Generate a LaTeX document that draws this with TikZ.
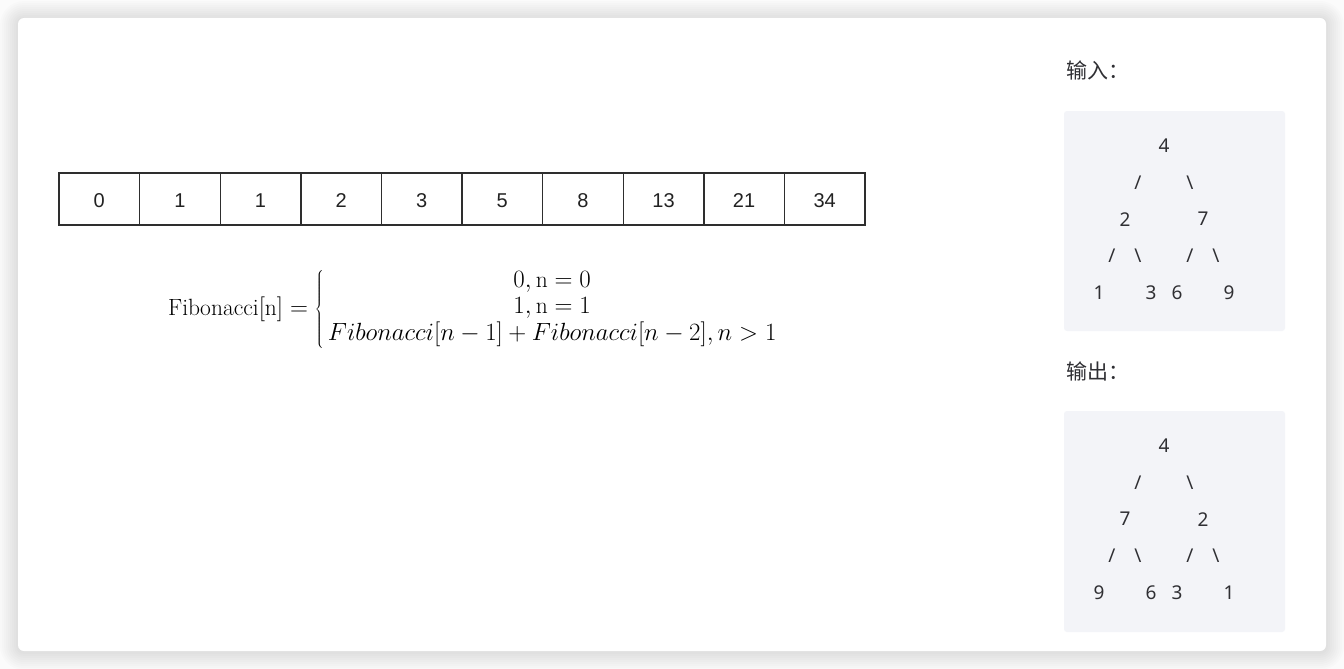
\documentclass[tikz,border=0pt]{standalone}
\usepackage{fontspec}
\usepackage{tikz}
\usetikzlibrary{positioning}
\newfontfamily\cellfont{Liberation Sans}
\newfontfamily\treefont{Noto Sans}
\newfontfamily\cjk{Noto Sans CJK SC}
\definecolor{pageBack}{HTML}{FBFBFB}
\definecolor{cellLine}{HTML}{2E2E2E}
\definecolor{cellText}{HTML}{222222}
\definecolor{treeFill}{HTML}{F3F4F8}
\definecolor{treeText}{HTML}{2F2F33}
\newcommand{\fwd}{/}
\newcommand{\bck}{\textbackslash}

\begin{document}
\begin{tikzpicture}[
  x=1pt, y=-1pt,
  cell/.style={
    draw=cellLine,
    line width=1.4pt,
    outer sep=0pt,
    inner sep=0pt,
    minimum width=80.6pt,
    minimum height=52pt,
    text height=17.3pt,
    text depth=0pt,
    text=cellText,
    font=\cellfont\fontsize{20}{24}\selectfont
  },
  tree box/.style={
    fill=treeFill,
    rounded corners=3pt
  },
  tree char/.style={
    inner sep=0pt,
    text=treeText,
    font=\treefont\fontsize{19}{23}\selectfont
  },
  heading/.style={
    anchor=west,
    inner sep=0pt,
    text=treeText,
    font=\cjk\fontsize{21}{25}\selectfont
  },
  formula/.style={
    anchor=west,
    inner sep=0pt,
    font=\fontsize{23.5}{25}\selectfont
  }
]

% Page and card with a soft shadow
\useasboundingbox (0,0) rectangle (1344,669);
\fill[pageBack] (0,0) rectangle (1344,669);
\foreach \s in {1,...,9}
  \fill[black, opacity=0.011, rounded corners={6pt+2*\s pt}]
    (18-2*\s,19-2*\s) rectangle (1326+2*\s,652+2*\s);
\fill[white, rounded corners=6pt] (18,18) rectangle (1326,651);

% Fibonacci table
\foreach \v [count=\i from 0] in {0,1,1,2,3,5,8,13,21,34}
  \node[cell] (cell\i) at ({99.3+80.6*\i},199) {\v};

% Recurrence
\node[formula] (recurrence) at (168,309)
  {\renewcommand{\arraystretch}{1.04}%
   $\mathrm{Fibonacci[n]}=\left\{\,\begin{array}{@{}c@{}}
     0,\mathrm{n}=0\\
     1,\mathrm{n}=1\\
     Fibonacci[n-1]+Fibonacci[n-2],n>1
   \end{array}\right.$};

% Input tree
\node[heading] (inputLabel) at (1066,70) {输入：};
\fill[tree box] (1064,111) rectangle (1285,331);
\foreach \c/\r/\t [count=\k] in {5/0/4, 3/1/\fwd, 7/1/\bck, 2/2/2, 8/2/7,
    1/3/\fwd, 3/3/\bck, 7/3/\fwd, 9/3/\bck, 0/4/1, 4/4/3, 6/4/6, 10/4/9}
  \node[tree char] (in\k) at ({1099+13*\c},{146+36.6*\r}) {\t};

% Output tree
\node[heading] (outputLabel) at (1066,371) {输出：};
\fill[tree box] (1064,411) rectangle (1285,632);
\foreach \c/\r/\t [count=\k] in {5/0/4, 3/1/\fwd, 7/1/\bck, 2/2/7, 8/2/2,
    1/3/\fwd, 3/3/\bck, 7/3/\fwd, 9/3/\bck, 0/4/9, 4/4/6, 6/4/3, 10/4/1}
  \node[tree char] (out\k) at ({1099+13*\c},{446+36.6*\r}) {\t};

\end{tikzpicture}
\end{document}
